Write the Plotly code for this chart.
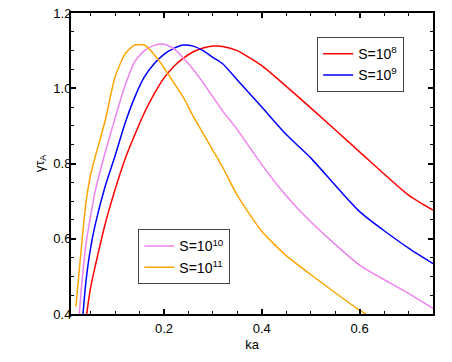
import plotly.graph_objects as go

# ka grid shared by all curves
ka = [0.02, 0.03, 0.04, 0.05, 0.06, 0.08, 0.10, 0.12, 0.14, 0.16, 0.18, 0.20,
      0.22, 0.24, 0.26, 0.28, 0.30, 0.32, 0.35, 0.40, 0.45, 0.50, 0.60, 0.70, 0.75]

# growth rate gamma*tau_A
g_s8 = [0.20, 0.28, 0.38, 0.47, 0.53, 0.64, 0.73, 0.81, 0.875, 0.935, 0.985, 1.027,
        1.058, 1.08, 1.097, 1.107, 1.112, 1.111, 1.10, 1.06, 1.005, 0.948, 0.831, 0.716, 0.676]
g_s9 = [0.20, 0.33, 0.48, 0.575, 0.64, 0.74, 0.82, 0.905, 0.975, 1.03, 1.065, 1.09,
        1.106, 1.115, 1.112, 1.10, 1.082, 1.065, 1.022, 0.95, 0.877, 0.815, 0.672, 0.575, 0.534]
g_s10 = [0.28, 0.45, 0.58, 0.66, 0.73, 0.83, 0.92, 1.005, 1.07, 1.10, 1.114, 1.117,
         1.105, 1.08, 1.05, 1.015, 0.977, 0.94, 0.89, 0.797, 0.714, 0.645, 0.53, 0.455, 0.415]
g_s11 = [0.42, 0.56, 0.69, 0.77, 0.82, 0.915, 1.03, 1.09, 1.115, 1.115, 1.09, 1.055,
         1.015, 0.975, 0.925, 0.88, 0.835, 0.79, 0.715, 0.62, 0.555, 0.505, 0.41, 0.33, 0.29]

series = [
    ("S=10<sup>8</sup>", g_s8, "red", "legend"),
    ("S=10<sup>9</sup>", g_s9, "blue", "legend"),
    ("S=10<sup>10</sup>", g_s10, "violet", "legend2"),
    ("S=10<sup>11</sup>", g_s11, "orange", "legend2"),
]

fig = go.Figure()
for nome, g, cor, leg in series:
    fig.add_trace(go.Scatter(x=ka, y=g, mode="lines", name=nome,
                             line=dict(color=cor, width=1.5, shape="spline", smoothing=0.6),
                             legend=leg))

eixo = dict(showline=True, linecolor="black", linewidth=2, mirror="allticks",
            ticks="inside", ticklen=5, tickwidth=1.5, tickcolor="black",
            showgrid=False, zeroline=False, automargin=False,
            tickfont=dict(size=13),
            minor=dict(ticks="inside", ticklen=3, tickwidth=1, tickcolor="black"))

fig.update_xaxes(range=[0.01, 0.75], tickvals=[0.2, 0.4, 0.6], ticktext=["0.2", "0.4", "0.6"],
                 minor_dtick=0.05, minor_tick0=0, ticklabelstandoff=1,
                 title=dict(text="ka", standoff=5, font=dict(size=13)), **eixo)
fig.update_yaxes(range=[0.4, 1.2], dtick=0.2, tickformat=".1f",
                 minor_dtick=0.05, minor_tick0=0, ticklabelstandoff=-5,
                 title=dict(text="γτ<sub>A</sub>", standoff=6, font=dict(size=13)), **eixo)

caixa = dict(bgcolor="white", bordercolor="#444", borderwidth=1,
             font=dict(size=14, color="black"), itemwidth=30, tracegroupgap=0)
fig.update_layout(
    width=452, height=362,
    margin=dict(l=71, r=19, t=13, b=48),
    plot_bgcolor="white", paper_bgcolor="white",
    font=dict(family="Liberation Sans, Arial", size=13, color="black"),
    legend=dict(x=0.68, y=0.92, xanchor="left", yanchor="top", **caixa),
    legend2=dict(x=0.186, y=0.281, xanchor="left", yanchor="top", entrywidth=76, **caixa),
)

# tira a margem padrao do body para a figura ficar no canto da janela
fig.write_html("out.html", config={"displayModeBar": False},
               post_script="document.body.style.margin='0';")
